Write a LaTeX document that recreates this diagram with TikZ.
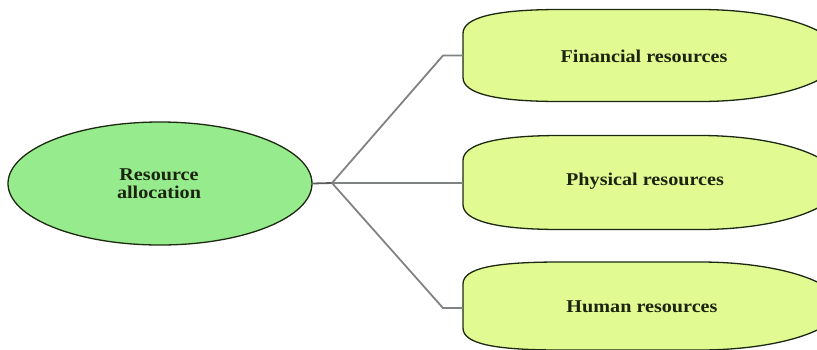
\documentclass[tikz,border=0pt]{standalone}
\usepackage{fontspec}
\setmainfont[FakeStretch=1.12]{Liberation Serif}
\usetikzlibrary{shapes.geometric}
\definecolor{ellfill}{RGB}{150,236,140}
\definecolor{boxfill}{RGB}{226,250,146}
\definecolor{edge}{RGB}{28,40,18}
\definecolor{txt}{RGB}{28,36,16}
\definecolor{conn}{RGB}{128,132,128}
\tikzset{
  lbl/.style={font=\bfseries\fontsize{18}{18}\selectfont, text=txt, align=center, inner sep=0pt},
  shapeline/.style={draw=edge, line width=1.3pt},
  connline/.style={draw=conn, line width=1.8pt},
}
\newcommand{\resshape}[2]{%
  \path[shapeline, fill=boxfill]
    (463,#1-22) .. controls (463,#1-38) and (495,#1-#2) .. (560,#1-#2)
    -- (700,#1-#2)
    .. controls (777,#1-#2) and (840,#1-0.552*#2) .. (840,#1)
    .. controls (840,#1+0.552*#2) and (777,#1+#2) .. (700,#1+#2)
    -- (560,#1+#2)
    .. controls (495,#1+#2) and (463,#1+38) .. (463,#1+22) -- cycle;}
\begin{document}
\begin{tikzpicture}[x=1pt,y=-1pt]
\useasboundingbox (0,0) rectangle (817,349);
\begin{scope}
\clip (0,0) rectangle (817,349);
% left ellipse
\node[ellipse, shapeline, fill=ellfill, minimum width=304pt, minimum height=123pt, inner sep=0pt] (ra) at (160,183.5) {};
\node[lbl, font=\bfseries\fontsize{18}{18}\selectfont] (ratext) at (159,184) {Resource\\allocation};
% right boxes
\resshape{55.5}{46}
\resshape{182.5}{47}
\resshape{306}{44}
\coordinate (fl) at (463,55.5);
\coordinate (pl) at (463,183);
\coordinate (hl) at (463,308);
\node[lbl] (fin) at (644,56) {Financial resources};
\node[lbl] (phy) at (645,181) {Physical resources};
\node[lbl] (hum) at (642,306.5) {Human resources};
% connectors
\coordinate (j) at (332,183);
\coordinate (fa) at (443,55.5);
\coordinate (ha) at (443,308);
\draw[connline, draw=conn!70!black] (ra.east) -- (j);
\draw[connline] (j) -- (fa) -- (fl);
\draw[connline] (j) -- (pl);
\draw[connline] (j) -- (ha) -- (hl);
\end{scope}
\end{tikzpicture}
\end{document}
